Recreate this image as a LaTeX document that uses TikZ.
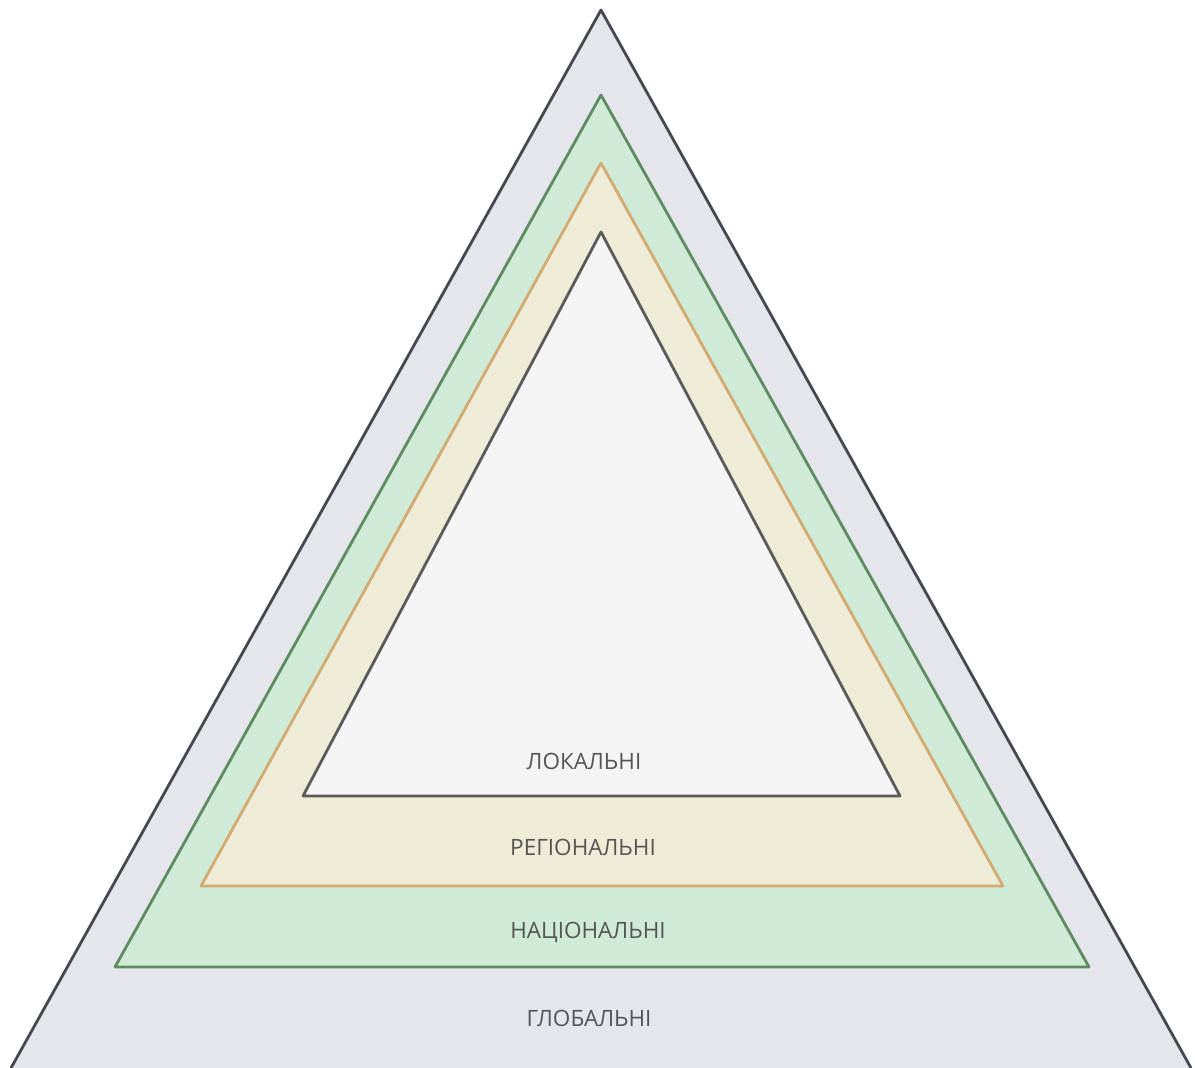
\documentclass[tikz,border=0pt]{standalone}
\usepackage{fontspec}
\setmainfont{Open Sans}
\definecolor{outerfill}{HTML}{E4E6EC}
\definecolor{outerdraw}{HTML}{45494F}
\definecolor{greenfill}{HTML}{D0EAD8}
\definecolor{greendraw}{HTML}{5E8C60}
\definecolor{yellowfill}{HTML}{EEEBD6}
\definecolor{yellowdraw}{HTML}{D2AB72}
\definecolor{innerfill}{HTML}{F4F4F4}
\definecolor{innerdraw}{HTML}{5A5A5A}
\definecolor{labeltext}{HTML}{555555}
\tikzset{
  layer/.style={line width=2.8pt, line join=round},
  lbl/.style={font=\fontsize{22.5}{26}\selectfont, text=labeltext, inner sep=0pt, anchor=center}
}
\begin{document}
\begin{tikzpicture}[x=1pt,y=-1pt]
\useasboundingbox (0,0) rectangle (1195,1068);
\fill[white] (0,0) rectangle (1195,1068);
% outer
\fill[outerfill] (11,1068) -- (601,10) -- (1191,1068) -- cycle;
\draw[layer, draw=outerdraw] (11,1068) -- (601,10) -- (1191,1068);
% green
\draw[layer, fill=greenfill, draw=greendraw] (115,967) -- (601,95) -- (1089,967) -- cycle;
% yellow
\draw[layer, fill=yellowfill, draw=yellowdraw] (201,886) -- (601,163) -- (1003,886) -- cycle;
% inner
\draw[layer, fill=innerfill, draw=innerdraw] (303,796) -- (601,232) -- (900,796) -- cycle;
% labels
\node[lbl] (lok) at (584,761) {ЛОКАЛЬНІ};
\node[lbl] (reg) at (583,847) {РЕГІОНАЛЬНІ};
\node[lbl] (nac) at (588,932) {НАЦІОНАЛЬНІ};
\node[lbl] (glo) at (589,1018) {ГЛОБАЛЬНІ};
\end{tikzpicture}
\end{document}
